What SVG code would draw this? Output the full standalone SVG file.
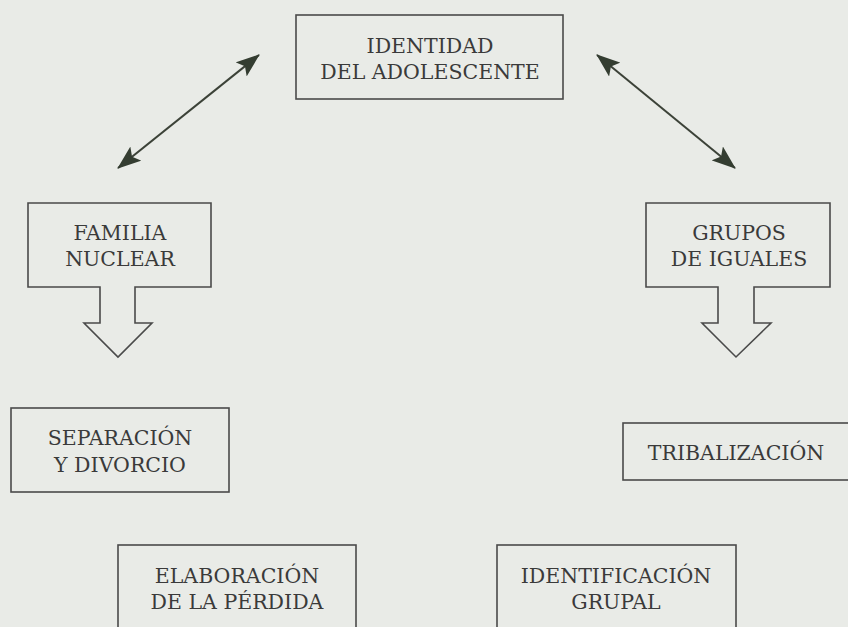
<svg xmlns="http://www.w3.org/2000/svg" width="848" height="627" viewBox="0 0 848 627">
<style>
.box{fill:none;stroke:#4a4a4a;stroke-width:1.6}
.t{font-family:"DejaVu Serif","Liberation Serif",serif;font-size:20.5px;fill:#3a3a3a;text-anchor:middle}
.con{stroke:#3c4238;stroke-width:2;fill:none}
</style>
<defs>
<marker id="ah" viewBox="0 0 24 18" refX="23" refY="9" markerWidth="24" markerHeight="18" markerUnits="userSpaceOnUse" orient="auto-start-reverse">
<path d="M0,0 L24,9 L0,18 L5,9 Z" fill="#343d31"/>
</marker>
</defs>
<rect width="848" height="627" fill="#e9ebe7"/>
<g id="identidad">
<rect class="box" x="296" y="15" width="267" height="84"/>
<text class="t" x="430" y="53">IDENTIDAD</text>
<text class="t" x="430" y="79">DEL ADOLESCENTE</text>
</g>
<g id="familia">
<path class="box" d="M28,203 H211 V287 H135 V323 H152 L118,357 L84,323 H100 V287 H28 Z"/>
<text class="t" x="120" y="240">FAMILIA</text>
<text class="t" x="120" y="266">NUCLEAR</text>
</g>
<g id="grupos">
<path class="box" d="M646,203 H830 V287 H754 V323 H771 L736,357 L702,323 H718 V287 H646 Z"/>
<text class="t" x="739" y="240">GRUPOS</text>
<text class="t" x="739" y="266">DE IGUALES</text>
</g>
<g id="separacion">
<rect class="box" x="11" y="408" width="218" height="84"/>
<text class="t" x="120" y="445">SEPARACIÓN</text>
<text class="t" x="120" y="472">Y DIVORCIO</text>
</g>
<g id="tribalizacion">
<rect class="box" x="623" y="423" width="230" height="57"/>
<text class="t" x="736" y="460">TRIBALIZACIÓN</text>
</g>
<g id="elaboracion">
<rect class="box" x="118" y="545" width="238" height="100"/>
<text class="t" x="237" y="583">ELABORACIÓN</text>
<text class="t" x="237" y="609">DE LA PÉRDIDA</text>
</g>
<g id="identificacion">
<rect class="box" x="497" y="545" width="239" height="100"/>
<text class="t" x="616" y="583">IDENTIFICACIÓN</text>
<text class="t" x="616" y="609">GRUPAL</text>
</g>
<g id="connectors">
<line class="con" x1="118" y1="168" x2="259" y2="55" marker-start="url(#ah)" marker-end="url(#ah)"/>
<line class="con" x1="597" y1="55" x2="735" y2="168" marker-start="url(#ah)" marker-end="url(#ah)"/>
</g>
</svg>
